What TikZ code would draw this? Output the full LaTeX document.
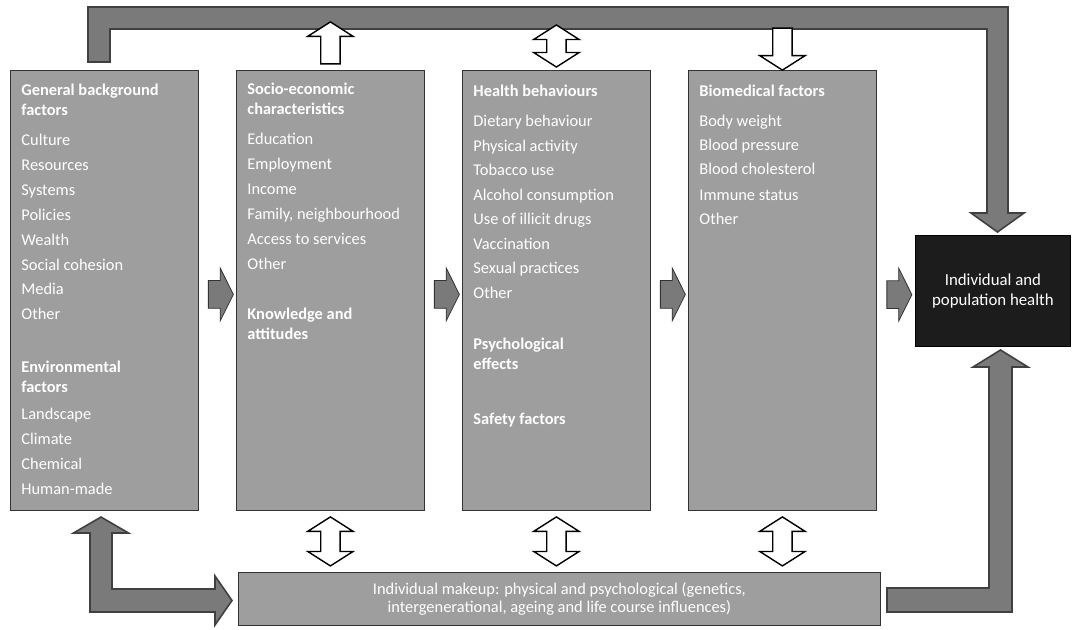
\documentclass[tikz,border=0pt]{standalone}
\usepackage{fontspec}
\setmainfont{Carlito}
\usetikzlibrary{shapes.arrows,calc}

\definecolor{boxgray}{HTML}{9E9E9E}
\definecolor{framegray}{HTML}{7A7A7A}
\definecolor{darkbox}{HTML}{1C1C1C}

\begin{document}
\begin{tikzpicture}[x=0.5pt, y=-0.5pt, font=\fontsize{8.2}{10}\selectfont,
	colbox/.style={draw=black!80, fill=boxgray, anchor=north west, inner sep=0pt, minimum width=94pt, minimum height=220pt},
	entry/.style={anchor=mid west, inner sep=0pt, text=white},
	flow/.style={single arrow, draw=black!80, fill=framegray, inner xsep=0pt, inner ysep=6.75pt, single arrow head extend=6.3pt, single arrow tip angle=127, minimum height=12.5pt},
	link/.style={draw=black, fill=white, line width=0.7pt, inner xsep=0pt, inner ysep=4.5pt},
	oneway/.style={link, single arrow, single arrow head extend=6.5pt, single arrow tip angle=115, minimum height=21pt},
	twoway/.style={link, double arrow, double arrow head extend=6.5pt, double arrow tip angle=115, minimum height=21pt},
	frame/.style={draw=black!75, fill=framegray, line width=0.8pt}]
\useasboundingbox (0,0) rectangle (1075,629);

% feedback frames
\draw[frame] (88,62) -- (88,7) -- (1008,7) -- (1008,213) -- (1024,213) -- (997.5,232) -- (971,213) -- (987,213) -- (987,29) -- (110,29) -- (110,62) -- cycle;
\draw[frame] (90,612) -- (90,533) -- (73.5,533) -- (101,517) -- (128.5,533) -- (112,533) -- (112,589) -- (215,589) -- (215,576) -- (232,600.5) -- (215,625) -- (215,612) -- cycle;
\draw[frame] (887,588) -- (989,588) -- (989,367) -- (973,367) -- (1000.5,350) -- (1028,367) -- (1012,367) -- (1012,612) -- (887,612) -- cycle;

% factor columns
\node[colbox] (b1) at (10,70) {};
\node[colbox] (b2) at (236,70) {};
\node[colbox] (b3) at (462,70) {};
\node[colbox] (b4) at (688,70) {};
\node[colbox, minimum width=321pt, minimum height=26.5pt, align=center, text=white, font=\fontsize{8.2}{9}\selectfont] (mk) at (238,572)
	{Individual makeup: physical and psychological (genetics,\\intergenerational, ageing and life course influences)};
\node[draw=black, fill=darkbox, anchor=north west, minimum width=77.5pt, minimum height=55.5pt, align=center, text=white, font=\fontsize{8.4}{10}\selectfont] (hl) at (915,235)
	{Individual and\\population health};

\foreach \y/\t [count=\i] in {91/{\bfseries General background}, 111/{\bfseries factors}, 141/Culture, 166/Resources, 191/Systems, 216/Policies, 241/Wealth, 265.5/Social cohesion, 290/Media, 315/Other, 368/{\bfseries Environmental}, 388/{\bfseries factors}, 415/Landscape, 440/Climate, 465/Chemical, 490/Human-made}
	\node[entry] (g\i) at (21,\y) {\t};
\foreach \y/\t [count=\i] in {90/{\bfseries Socio-economic}, 110/{\bfseries characteristics}, 140/Education, 165/Employment, 190/Income, 215/{Family, neighbourhood}, 240/Access to services, 265/Other, 315/{\bfseries Knowledge and}, 335/{\bfseries attitudes}}
	\node[entry] (s\i) at (247,\y) {\t};
\foreach \y/\t [count=\i] in {92/{\bfseries Health behaviours}, 122/Dietary behaviour, 146.5/Physical activity, 171/Tobacco use, 195.5/Alcohol consumption, 220/Use of illicit drugs, 244.5/Vaccination, 269/Sexual practices, 293.5/Other, 345/{\bfseries Psychological}, 365/{\bfseries effects}, 420/{\bfseries Safety factors}}
	\node[entry] (h\i) at (473,\y) {\t};
\foreach \y/\t [count=\i] in {92/{\bfseries Biomedical factors}, 122/Body weight, 146/Blood pressure, 170/Blood cholesterol, 196/Immune status, 220/Other}
	\node[entry] (m\i) at (699,\y) {\t};

% arrows between columns
\node[flow] (f12) at ($(b1.east)!0.5!(b2.west)+(0,4)$) {};
\node[flow] (f23) at ($(b2.east)!0.5!(b3.west)+(0,4)$) {};
\node[flow] (f34) at ($(b3.east)!0.5!(b4.west)+(0,4)$) {};
\node[flow] (f4h) at ($(b4.east)!0.5!(hl.west)+(0,4)$) {};

% links to the frames
\node[oneway, rotate=90] (u2) at ($(b2.north)+(0,-24)$) {};
\node[twoway, rotate=90] (u3) at ($(b3.north)+(0,-24)$) {};
\node[oneway, rotate=-90] (u4) at ($(b4.north)+(0,-24)$) {};
\foreach \b in {2,3,4}
	\node[twoway, rotate=90, minimum height=24.5pt] (d\b) at ($(b\b.south)!0.5!(b\b.south |- mk.north)$) {};
\end{tikzpicture}
\end{document}
